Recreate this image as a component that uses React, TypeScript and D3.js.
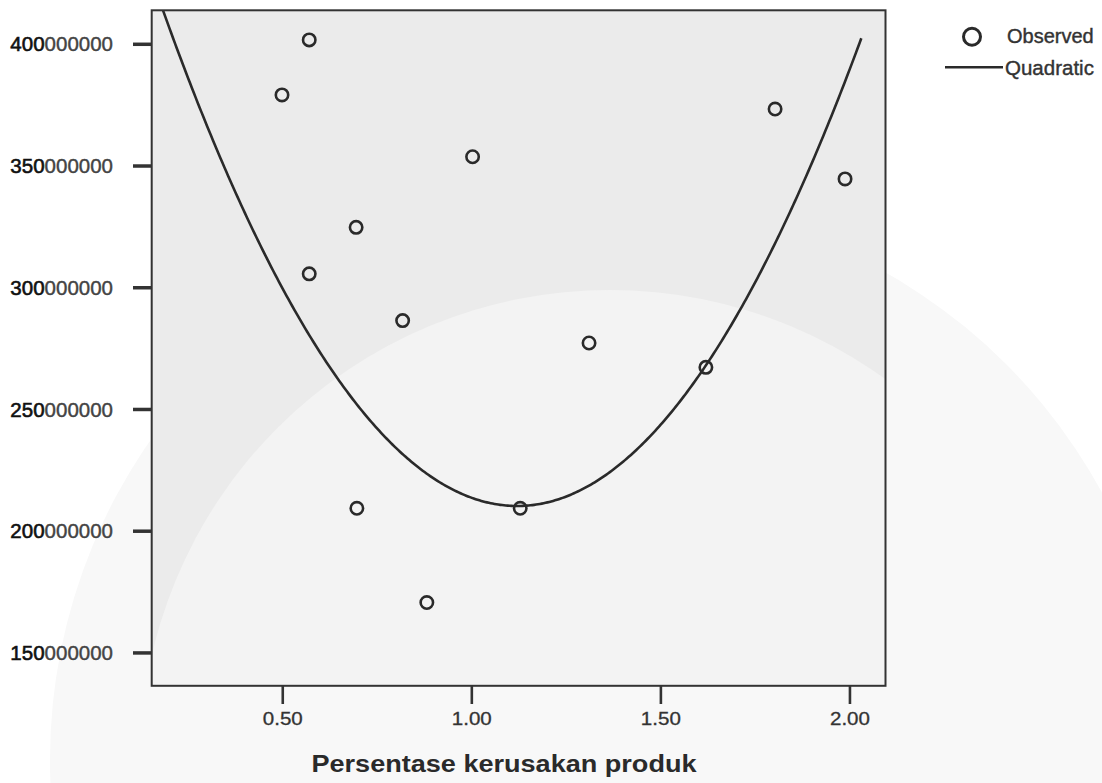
import React from 'react'
import * as d3 from 'd3'

// observed points (x = % damaged product, y = value)
const damagePct = [0.498, 0.57, 0.57, 0.694, 0.696, 0.817, 0.881, 1.002, 1.128, 1.31, 1.619, 1.802, 1.987]
const observed = [379.2e6, 401.8e6, 305.7e6, 324.8e6, 209.4e6, 286.5e6, 170.7e6, 353.8e6, 209.4e6, 277.3e6, 267.3e6, 373.4e6, 344.7e6]

// quadratic fit y = b0 + b1*x + b2*x^2 (coefficients)
const quadB0 = 501.4e6
const quadB1 = -519.7e6
const quadB2 = 232e6
const curveRange = [0.15, 2.032]

const xTicks = [0.5, 1.0, 1.5, 2.0]
const yTicks = [150e6, 200e6, 250e6, 300e6, 350e6, 400e6]

const W = 1102
const H = 783
const plot = { left: 151.7, right: 885.5, top: 10.3, bottom: 685.8 }
const FONT = "'Liberation Sans', Arial, sans-serif"
const INK = '#2a2a2a'

export default function App() {
  const x = d3.scaleLinear().domain([0.1534, 2.094]).range([plot.left, plot.right])
  const y = d3.scaleLinear().domain([136.5e6, 413.96e6]).range([plot.bottom, plot.top])

  const samples = d3.range(curveRange[0], curveRange[1] + 1e-9, 0.005)
  const curve = d3.line<number>()
    .x(d => x(d))
    .y(d => y(quadB0 + quadB1 * d + quadB2 * d * d))(samples)

  const fmt = d3.format('d')
  const xFmt = d3.format('.2f')
  const pw = plot.right - plot.left
  const ph = plot.bottom - plot.top

  return (
    <svg width={W} height={H} style={{ position: 'absolute', left: 0, top: 0, background: '#fff' }}>
      <defs>
        <clipPath id="plotClip">
          <rect x={plot.left} y={plot.top} width={pw} height={ph} />
        </clipPath>
      </defs>

      {/* faint scan watermark behind the page */}
      <circle cx={610} cy={760} r={560} fill="#f8f8f8" />

      {/* plot background */}
      <g clipPath="url(#plotClip)">
        <rect x={plot.left} y={plot.top} width={pw} height={ph} fill="#ebebeb" />
        <circle cx={610} cy={760} r={470} fill="#f3f3f3" />
        <path d={curve || ''} fill="none" stroke={INK} strokeWidth={2.6} />
        {damagePct.map((d, i) => (
          <circle key={i} cx={x(d)} cy={y(observed[i])} r={6.2} fill="none" stroke={INK} strokeWidth={2.6} />
        ))}
      </g>

      {/* frame */}
      <rect x={plot.left} y={plot.top} width={pw} height={ph} fill="none" stroke="#333" strokeWidth={2} />

      {/* y axis */}
      {yTicks.map(t => {
        const s = fmt(t)
        return (
          <g key={t}>
            <line x1={133} x2={plot.left} y1={y(t)} y2={y(t)} stroke="#333" strokeWidth={3.5} />
            <text x={113} y={y(t)} dy="0.35em" textAnchor="end" fontFamily={FONT} fontSize={20.5}>
              <tspan fill="#111" stroke="#111" strokeWidth={0.6}>{s.slice(0, 3)}</tspan>
              <tspan fill="#444" stroke="#444" strokeWidth={0.4}>{s.slice(3)}</tspan>
            </text>
          </g>
        )
      })}

      {/* x axis */}
      {xTicks.map(t => (
        <g key={t}>
          <line x1={x(t)} x2={x(t)} y1={plot.bottom} y2={704} stroke="#333" strokeWidth={2.6} />
          <text x={x(t)} y={725} textAnchor="middle" fontFamily={FONT} fontSize={18.5}
            textLength={40} lengthAdjust="spacingAndGlyphs" fill="#333" stroke="#333" strokeWidth={0.3}>{xFmt(t)}</text>
        </g>
      ))}
      <text x={504} y={771.5} textAnchor="middle" fontFamily={FONT} fontWeight="bold" fontSize={23}
        textLength={385} lengthAdjust="spacingAndGlyphs" fill={INK}>Persentase kerusakan produk</text>

      {/* legend */}
      <circle cx={972} cy={36.7} r={8.5} fill="none" stroke={INK} strokeWidth={3} />
      <text x={1007} y={42.5} fontFamily={FONT} fontSize={20} fill="#333" stroke="#333" strokeWidth={0.4}>Observed</text>
      <line x1={945} x2={1003} y1={67.3} y2={67.3} stroke={INK} strokeWidth={2.4} />
      <text x={1005} y={75} fontFamily={FONT} fontSize={20.5} fill="#333" stroke="#333" strokeWidth={0.4}>Quadratic</text>
    </svg>
  )
}
